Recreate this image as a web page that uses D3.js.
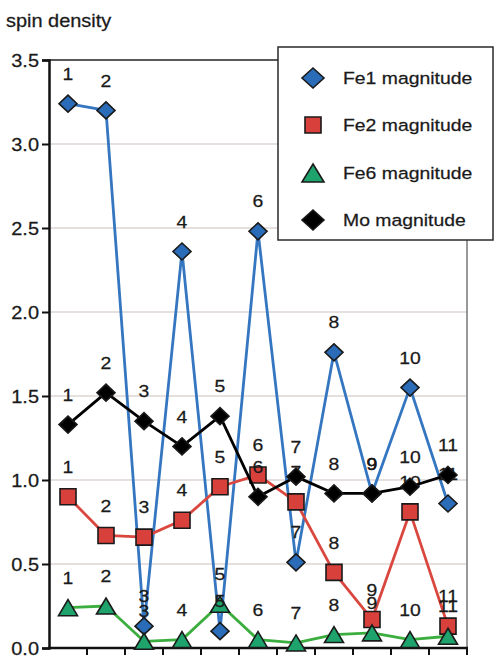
<!DOCTYPE html>
<html>
<head>
<meta charset="utf-8">
<script src="https://cdn.jsdelivr.net/npm/d3@7"></script>
<style>
  html, body { margin: 0; padding: 0; background: #fff; }
  svg { display: block; font-family: "Liberation Sans", Arial, Helvetica, sans-serif; }
</style>
</head>
<body>
<svg id="chart" width="497" height="657"></svg>
<script>
// Step numbers along the x axis
const categories = ["1", "2", "3", "4", "5", "6", "7", "8", "9", "10", "11"];

// Spin density magnitudes per site
const fe1Values = [3.24, 3.20, 0.13, 2.36, 0.10, 2.48, 0.51, 1.76, 0.92, 1.55, 0.86];
const fe2Values = [0.90, 0.67, 0.66, 0.76, 0.96, 1.03, 0.87, 0.45, 0.17, 0.81, 0.13];
const fe6Values = [0.24, 0.25, 0.04, 0.05, 0.26, 0.05, 0.03, 0.08, 0.09, 0.05, 0.07];
const moValues  = [1.33, 1.52, 1.35, 1.20, 1.38, 0.90, 1.02, 0.92, 0.92, 0.96, 1.03];

const seriesNames = ["Fe1 magnitude", "Fe2 magnitude", "Fe6 magnitude", "Mo magnitude"];
const yTicks = [0, 0.5, 1.0, 1.5, 2.0, 2.5, 3.0, 3.5];

const series = [
  { name: seriesNames[0], values: fe1Values, line: "#3576c0", fill: "#2a6cb8", shape: "diamond" },
  { name: seriesNames[1], values: fe2Values, line: "#d9473f", fill: "#d8403c", shape: "square" },
  { name: seriesNames[2], values: fe6Values, line: "#3cae3f", fill: "#1fa36c", shape: "triangle" },
  { name: seriesNames[3], values: moValues,  line: "#000000", fill: "#000000", shape: "diamond" }
];

const svg = d3.select("#chart");
const plotLeft = 49, plotRight = 467, plotTop = 60, plotBottom = 648;
const SX = 1.14; // horizontal widening of glyphs

const x = d3.scaleBand().domain(categories).range([plotLeft, plotRight]);
const y = d3.scaleLinear().domain([0, 3.5]).range([plotBottom, plotTop]);
const cx = c => x(c) + x.bandwidth() / 2;

function label(g, txt, px, py, size, anchor, extra) {
  const t = g.append("text")
    .attr("transform", `translate(${px},${py}) scale(${SX},1)`)
    .attr("font-size", size)
    .attr("fill", "#1a1a1a")
    .attr("stroke", "#1a1a1a").attr("stroke-width", 0.25)
    .attr("text-anchor", anchor || "start")
    .text(txt);
  if (extra) extra(t);
  return t;
}

function shapePath(shape, w, h) {
  if (shape === "diamond") return `M0,${-h/2}L${w/2},0L0,${h/2}L${-w/2},0Z`;
  if (shape === "square") return `M${-w/2},${-h/2}H${w/2}V${h/2}H${-w/2}Z`;
  return `M0,${-h/2}L${w/2},${h/2}H${-w/2}Z`;
}
const markerSize = { diamond: [18, 17], square: [16, 16], triangle: [19, 16] };

// gridlines
svg.append("g").selectAll("line")
  .data(yTicks.filter(v => v > 0 && v < 3.5))
  .join("line")
  .attr("x1", plotLeft).attr("x2", plotRight)
  .attr("y1", d => y(d)).attr("y2", d => y(d))
  .attr("stroke", "#dcd6d2").attr("stroke-width", 1.5);

// frame: top and right
svg.append("line").attr("x1", plotLeft).attr("x2", plotRight).attr("y1", y(3.5)).attr("y2", y(3.5))
  .attr("stroke", "#222").attr("stroke-width", 1.5);
svg.append("line").attr("x1", plotRight).attr("x2", plotRight).attr("y1", y(3.5)).attr("y2", plotBottom)
  .attr("stroke", "#777").attr("stroke-width", 1.5);

// y axis
const yAxis = svg.append("g").attr("transform", `translate(${plotLeft},0)`)
  .call(d3.axisLeft(y).tickValues(yTicks).tickFormat(d3.format(".1f")).tickSize(7).tickPadding(3));
yAxis.select(".domain").attr("stroke", "#111").attr("stroke-width", 2.5);
yAxis.selectAll(".tick line").attr("stroke", "#111").attr("stroke-width", 2);
yAxis.selectAll(".tick text").remove();
yAxis.selectAll(".tick").each(function (d) {
  label(d3.select(this), d3.format(".1f")(d), -10, 0, 17.5, "end", t => t.attr("dy", "0.36em"));
});

// x axis with boundary ticks
const xAxis = svg.append("g").attr("transform", `translate(0,${plotBottom})`);
xAxis.append("line").attr("x1", plotLeft - 1).attr("x2", plotRight + 1).attr("y1", 0).attr("y2", 0)
  .attr("stroke", "#111").attr("stroke-width", 2.5);
xAxis.selectAll("line.tk")
  .data(categories.map(c => x(c)).concat([plotRight]).slice(1))
  .join("line").attr("class", "tk")
  .attr("x1", d => d).attr("x2", d => d).attr("y1", 0).attr("y2", 7)
  .attr("stroke", "#111").attr("stroke-width", 2);

// axis title
label(svg, "spin density", 6, 27, 17.5);

const lineGen = d3.line().x((d, i) => cx(categories[i])).y(d => y(d));

function drawSeries(s) {
  const g = svg.append("g");
  g.append("path").datum(s.values).attr("d", lineGen)
    .attr("fill", "none").attr("stroke", s.line).attr("stroke-width", 2.8)
    .attr("stroke-linejoin", "round");
  const [w, h] = markerSize[s.shape];
  g.selectAll("path.m").data(s.values).join("path").attr("class", "m")
    .attr("transform", (d, i) => `translate(${cx(categories[i])},${y(d)})`)
    .attr("d", shapePath(s.shape, w, h))
    .attr("fill", s.fill).attr("stroke", "#1a1a1a").attr("stroke-width", 1.6);
}
function drawLabels(s) {
  const g = svg.append("g");
  s.values.forEach((v, i) => {
    label(g, categories[i], cx(categories[i]), y(v) - 30, 17, "middle", t => t.attr("dy", "0.36em"));
  });
}

// Fe series first, their labels, then Mo on top
series.slice(0, 3).forEach(drawSeries);
series.slice(0, 3).forEach(drawLabels);
drawSeries(series[3]);
drawLabels(series[3]);

// legend
const lg = svg.append("g");
lg.append("rect").attr("x", 278).attr("y", 47).attr("width", 215).attr("height", 193)
  .attr("fill", "#fff").attr("stroke", "#2a2a2a").attr("stroke-width", 1.5);
const legendSize = { diamond: [22, 20], square: [16, 16], triangle: [22, 18] };
const rowY = [78, 125, 173, 220];
series.forEach((s, i) => {
  const [w, h] = legendSize[s.shape];
  lg.append("path").attr("transform", `translate(313,${rowY[i]})`)
    .attr("d", shapePath(s.shape, w, h))
    .attr("fill", s.fill).attr("stroke", "#1a1a1a").attr("stroke-width", 1.6);
  label(lg, s.name, 343, rowY[i], 17, "start", t => t.attr("dy", "0.36em"));
});
</script>
</body>
</html>
